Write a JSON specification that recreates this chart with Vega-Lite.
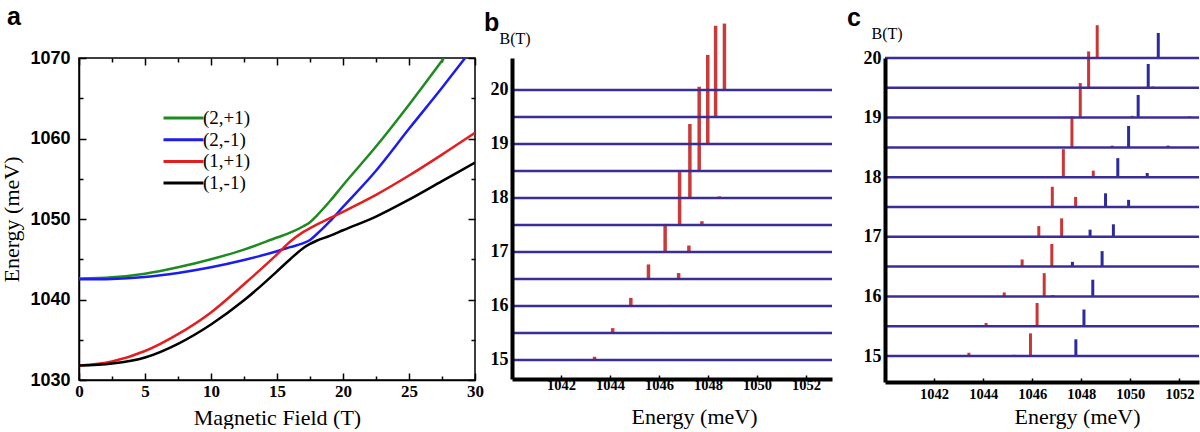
{
  "$schema": "https://vega.github.io/schema/vega-lite/v6.json",
  "autosize": {"type": "pad"},
  "padding": {"left": 0, "top": 4, "right": 0, "bottom": 0},
  "background": "white",
  "bounds": "flush",
  "spacing": 37,
  "resolve": {"scale": {"color": "independent"}, "legend": {"color": "independent"}},
  "config": {"view": {"stroke": null}, "font": "Liberation Serif"},
  "hconcat": [
    {
      "width": 396,
      "height": 322,
      "title": {"text": "a", "font": "Liberation Sans", "fontSize": 25, "fontWeight": "bold", "anchor": "start", "frame": "group", "dx": -72, "offset": -1, "baseline": "alphabetic", "color": "black"},
      "view": {"stroke": "black", "strokeWidth": 1.5},
      "data": {"values": [
        {"state": "(2,+1)", "B": 0, "E": 1042.6}, {"state": "(2,+1)", "B": 2.5, "E": 1042.75}, {"state": "(2,+1)", "B": 5, "E": 1043.2}, {"state": "(2,+1)", "B": 7.5, "E": 1044.0}, {"state": "(2,+1)", "B": 10, "E": 1045.0}, {"state": "(2,+1)", "B": 12.5, "E": 1046.2}, {"state": "(2,+1)", "B": 15, "E": 1047.7}, {"state": "(2,+1)", "B": 16, "E": 1048.3}, {"state": "(2,+1)", "B": 17, "E": 1049.1}, {"state": "(2,+1)", "B": 17.5, "E": 1049.6}, {"state": "(2,+1)", "B": 18, "E": 1050.4}, {"state": "(2,+1)", "B": 19, "E": 1052.2}, {"state": "(2,+1)", "B": 20, "E": 1054.2}, {"state": "(2,+1)", "B": 22.5, "E": 1059.0}, {"state": "(2,+1)", "B": 25, "E": 1064.2}, {"state": "(2,+1)", "B": 27.65, "E": 1070.0},
        {"state": "(2,-1)", "B": 0, "E": 1042.5}, {"state": "(2,-1)", "B": 2.5, "E": 1042.55}, {"state": "(2,-1)", "B": 5, "E": 1042.8}, {"state": "(2,-1)", "B": 7.5, "E": 1043.3}, {"state": "(2,-1)", "B": 10, "E": 1044.0}, {"state": "(2,-1)", "B": 12.5, "E": 1044.9}, {"state": "(2,-1)", "B": 15, "E": 1046.0}, {"state": "(2,-1)", "B": 16, "E": 1046.5}, {"state": "(2,-1)", "B": 17, "E": 1047.0}, {"state": "(2,-1)", "B": 17.5, "E": 1047.4}, {"state": "(2,-1)", "B": 18, "E": 1048.1}, {"state": "(2,-1)", "B": 19, "E": 1049.7}, {"state": "(2,-1)", "B": 20, "E": 1051.5}, {"state": "(2,-1)", "B": 22.5, "E": 1056.0}, {"state": "(2,-1)", "B": 25, "E": 1061.2}, {"state": "(2,-1)", "B": 27.5, "E": 1066.3}, {"state": "(2,-1)", "B": 29.25, "E": 1070.0},
        {"state": "(1,+1)", "B": 0, "E": 1031.8}, {"state": "(1,+1)", "B": 2.5, "E": 1032.3}, {"state": "(1,+1)", "B": 5, "E": 1033.6}, {"state": "(1,+1)", "B": 7.5, "E": 1035.7}, {"state": "(1,+1)", "B": 10, "E": 1038.4}, {"state": "(1,+1)", "B": 12.5, "E": 1041.9}, {"state": "(1,+1)", "B": 15, "E": 1045.6}, {"state": "(1,+1)", "B": 16, "E": 1047.2}, {"state": "(1,+1)", "B": 17, "E": 1048.4}, {"state": "(1,+1)", "B": 18, "E": 1049.3}, {"state": "(1,+1)", "B": 19, "E": 1050.1}, {"state": "(1,+1)", "B": 20, "E": 1050.9}, {"state": "(1,+1)", "B": 22.5, "E": 1053.0}, {"state": "(1,+1)", "B": 25, "E": 1055.4}, {"state": "(1,+1)", "B": 27.5, "E": 1058.0}, {"state": "(1,+1)", "B": 30, "E": 1060.7},
        {"state": "(1,-1)", "B": 0, "E": 1031.8}, {"state": "(1,-1)", "B": 2.5, "E": 1032.05}, {"state": "(1,-1)", "B": 5, "E": 1032.8}, {"state": "(1,-1)", "B": 7.5, "E": 1034.5}, {"state": "(1,-1)", "B": 10, "E": 1036.9}, {"state": "(1,-1)", "B": 12.5, "E": 1039.9}, {"state": "(1,-1)", "B": 14, "E": 1042.0}, {"state": "(1,-1)", "B": 15, "E": 1043.5}, {"state": "(1,-1)", "B": 16, "E": 1045.0}, {"state": "(1,-1)", "B": 17, "E": 1046.4}, {"state": "(1,-1)", "B": 17.5, "E": 1046.9}, {"state": "(1,-1)", "B": 18, "E": 1047.3}, {"state": "(1,-1)", "B": 19, "E": 1047.9}, {"state": "(1,-1)", "B": 20, "E": 1048.6}, {"state": "(1,-1)", "B": 22.5, "E": 1050.3}, {"state": "(1,-1)", "B": 25, "E": 1052.4}, {"state": "(1,-1)", "B": 27.5, "E": 1054.7}, {"state": "(1,-1)", "B": 30, "E": 1057.0}
      ]},
      "layer": [
        {
          "mark": {"type": "line", "strokeWidth": 2.5, "interpolate": "monotone", "clip": true},
          "encoding": {
            "x": {"field": "B", "type": "quantitative", "scale": {"domain": [0, 30], "nice": false},
              "axis": {"values": [0, 2.5, 5, 7.5, 10, 12.5, 15, 17.5, 20, 22.5, 25, 27.5, 30], "labelExpr": "datum.value % 5 === 0 ? datum.label : ''",
                "tickSize": {"condition": {"test": "datum.value % 5 === 0", "value": -7}, "value": -4}, "tickWidth": 1.5, "tickColor": "black",
                "domainColor": "black", "domainWidth": 1.5, "grid": false, "labelFlush": false,
                "labelFont": "Liberation Serif", "labelFontWeight": "bold", "labelFontSize": 17, "labelColor": "black", "labelPadding": 10,
                "title": "Magnetic Field (T)", "titleFont": "Liberation Serif", "titleFontSize": 22, "titleFontWeight": "normal", "titleColor": "black", "titlePadding": 8}},
            "y": {"field": "E", "type": "quantitative", "scale": {"domain": [1030, 1070], "nice": false, "zero": false},
              "axis": {"values": [1030, 1035, 1040, 1045, 1050, 1055, 1060, 1065, 1070], "format": "d", "labelExpr": "datum.value % 10 === 0 ? datum.label : ''",
                "tickSize": {"condition": {"test": "datum.value % 10 === 0", "value": -7}, "value": -4}, "tickWidth": 1.5, "tickColor": "black",
                "domainColor": "black", "domainWidth": 1.5, "grid": false,
                "labelFont": "Liberation Sans", "labelFontWeight": "bold", "labelFontSize": 18, "labelColor": "black", "labelPadding": 16,
                "title": "Energy (meV)", "titleFont": "Liberation Serif", "titleFontSize": 22, "titleFontWeight": "normal", "titleColor": "black", "titlePadding": 6}},
            "color": {"field": "state", "type": "nominal",
              "scale": {"domain": ["(2,+1)", "(2,-1)", "(1,+1)", "(1,-1)"], "range": ["#1f8a1f", "#1c1cf0", "#e41e1e", "#000000"]},
              "legend": {"orient": "none", "legendX": 83, "legendY": 50, "title": null, "symbolType": "stroke", "symbolSize": 1600, "symbolStrokeWidth": 3,
                "labelFont": "Liberation Serif", "labelFontSize": 19, "labelColor": "black", "labelOffset": -2, "clipHeight": 20, "rowPadding": 1.7}}
          }
        },
        {
          "mark": {"type": "point", "opacity": 0},
          "encoding": {
            "x": {"field": "B", "type": "quantitative",
              "axis": {"orient": "top", "values": [0, 2.5, 5, 7.5, 10, 12.5, 15, 17.5, 20, 22.5, 25, 27.5, 30], "labels": false, "title": null, "domain": false, "grid": false,
                "tickSize": {"condition": {"test": "datum.value % 5 === 0", "value": -7}, "value": -4}, "tickWidth": 1.5, "tickColor": "black"}},
            "y": {"field": "E", "type": "quantitative",
              "axis": {"orient": "right", "values": [1030, 1035, 1040, 1045, 1050, 1055, 1060, 1065, 1070], "labels": false, "title": null, "domain": false, "grid": false,
                "tickSize": {"condition": {"test": "datum.value % 10 === 0", "value": -7}, "value": -4}, "tickWidth": 1.5, "tickColor": "black"}}
          }
        }
      ],
      "resolve": {"axis": {"x": "independent", "y": "independent"}}
    },
    {
      "bounds": "flush",
      "spacing": 53,
      "resolve": {"scale": {"color": "independent"}, "legend": {"color": "independent"}},
      "hconcat": [
        {
          "width": 320,
          "height": 321,
          "title": {"text": "b", "font": "Liberation Sans", "fontSize": 25, "fontWeight": "bold", "anchor": "start", "frame": "group", "dx": -28, "offset": -34, "baseline": "alphabetic", "color": "black"},
          "layer": [
            {
              "data": {"values": [
                {"B": 15, "E": 1043.37, "h": 0.06},
                {"B": 15.5, "E": 1044.11, "h": 0.09}, {"B": 15.5, "E": 1046.17, "h": 0.02},
                {"B": 16, "E": 1044.85, "h": 0.15}, {"B": 16, "E": 1046.47, "h": 0.02},
                {"B": 16.5, "E": 1045.57, "h": 0.27}, {"B": 16.5, "E": 1046.8, "h": 0.11},
                {"B": 17, "E": 1046.25, "h": 0.52}, {"B": 17, "E": 1047.22, "h": 0.12},
                {"B": 17.5, "E": 1046.84, "h": 0.98}, {"B": 17.5, "E": 1047.75, "h": 0.07},
                {"B": 18, "E": 1047.26, "h": 1.37}, {"B": 18, "E": 1048.46, "h": 0.03},
                {"B": 18.5, "E": 1047.64, "h": 1.56},
                {"B": 19, "E": 1047.99, "h": 1.65},
                {"B": 19.5, "E": 1048.31, "h": 1.69},
                {"B": 20, "E": 1048.67, "h": 1.23}
              ]},
              "transform": [{"calculate": "datum.B + datum.h", "as": "top"}],
              "mark": {"type": "rule", "strokeWidth": 3.5, "color": "#c93b3b"},
              "encoding": {
                "x": {"field": "E", "type": "quantitative", "scale": {"domain": [1040, 1053.06], "nice": false, "zero": false},
                  "axis": {"values": [1042, 1044, 1046, 1048, 1050, 1052], "format": "d", "zindex": 1, "grid": false, "labelFlush": false,
                    "domainColor": "black", "domainWidth": 4, "tickColor": "black", "tickSize": -4, "tickWidth": 1.5,
                    "labelFont": "Liberation Serif", "labelFontWeight": "bold", "labelFontSize": 14.5, "labelColor": "black", "labelPadding": 3,
                    "title": "Energy (meV)", "titleFont": "Liberation Serif", "titleFontSize": 22, "titleFontWeight": "normal", "titleColor": "black", "titlePadding": 15, "titleX": 182}},
                "y": {"field": "B", "type": "quantitative", "scale": {"domain": [14.648, 20.5926], "nice": false, "zero": false},
                  "axis": {"values": [15, 16, 17, 18, 19, 20], "format": "d", "zindex": 1, "grid": false, "ticks": false,
                    "domainColor": "black", "domainWidth": 4,
                    "labelFont": "Liberation Serif", "labelFontWeight": "bold", "labelFontSize": 18, "labelColor": "black", "labelPadding": 4,
                    "title": "B(T)", "titleFont": "Liberation Serif", "titleFontSize": 16, "titleFontWeight": "normal", "titleColor": "black",
                    "titleAngle": 0, "titleAlign": "left", "titleBaseline": "middle", "titleX": -13, "titleY": -20}},
                "y2": {"field": "top"}
              }
            },
            {
              "data": {"values": [{"B": 15}, {"B": 15.5}, {"B": 16}, {"B": 16.5}, {"B": 17}, {"B": 17.5}, {"B": 18}, {"B": 18.5}, {"B": 19}, {"B": 19.5}, {"B": 20}]},
              "mark": {"type": "rule", "strokeWidth": 2.5, "color": "#3b2d98"},
              "encoding": {"y": {"field": "B", "type": "quantitative"}}
            }
          ]
        },
        {
          "width": 314,
          "height": 324,
          "title": {"text": "c", "font": "Liberation Sans", "fontSize": 25, "fontWeight": "bold", "anchor": "start", "frame": "group", "dx": -38, "offset": -27, "baseline": "alphabetic", "color": "black"},
          "layer": [
            {
              "data": {"values": [
                {"B": 15, "E": 1043.42, "h": 0.055, "level": "n=1"}, {"B": 15, "E": 1045.26, "h": 0.02, "level": "n=2"}, {"B": 15, "E": 1045.93, "h": 0.38, "level": "n=1"}, {"B": 15, "E": 1047.78, "h": 0.28, "level": "n=2"},
                {"B": 15.5, "E": 1044.12, "h": 0.055, "level": "n=1"}, {"B": 15.5, "E": 1046.05, "h": 0.02, "level": "n=2"}, {"B": 15.5, "E": 1046.2, "h": 0.39, "level": "n=1"}, {"B": 15.5, "E": 1048.11, "h": 0.28, "level": "n=2"},
                {"B": 16, "E": 1044.86, "h": 0.067, "level": "n=1"}, {"B": 16, "E": 1046.49, "h": 0.39, "level": "n=1"}, {"B": 16, "E": 1046.84, "h": 0.02, "level": "n=2"}, {"B": 16, "E": 1048.47, "h": 0.28, "level": "n=2"},
                {"B": 16.5, "E": 1045.59, "h": 0.12, "level": "n=1"}, {"B": 16.5, "E": 1046.8, "h": 0.38, "level": "n=1"}, {"B": 16.5, "E": 1047.64, "h": 0.08, "level": "n=2"}, {"B": 16.5, "E": 1048.85, "h": 0.26, "level": "n=2"},
                {"B": 17, "E": 1046.27, "h": 0.18, "level": "n=1"}, {"B": 17, "E": 1047.2, "h": 0.31, "level": "n=1"}, {"B": 17, "E": 1048.36, "h": 0.12, "level": "n=2"}, {"B": 17, "E": 1049.31, "h": 0.21, "level": "n=2"},
                {"B": 17.5, "E": 1046.82, "h": 0.34, "level": "n=1"}, {"B": 17.5, "E": 1047.77, "h": 0.17, "level": "n=1"}, {"B": 17.5, "E": 1048.99, "h": 0.23, "level": "n=2"}, {"B": 17.5, "E": 1049.93, "h": 0.12, "level": "n=2"},
                {"B": 18, "E": 1047.27, "h": 0.47, "level": "n=1"}, {"B": 18, "E": 1048.49, "h": 0.11, "level": "n=1"}, {"B": 18, "E": 1049.49, "h": 0.32, "level": "n=2"}, {"B": 18, "E": 1050.69, "h": 0.07, "level": "n=2"},
                {"B": 18.5, "E": 1047.62, "h": 0.52, "level": "n=1"}, {"B": 18.5, "E": 1049.26, "h": 0.03, "level": "n=1"}, {"B": 18.5, "E": 1049.93, "h": 0.36, "level": "n=2"}, {"B": 18.5, "E": 1051.54, "h": 0.03, "level": "n=2"},
                {"B": 19, "E": 1047.96, "h": 0.58, "level": "n=1"}, {"B": 19, "E": 1050.08, "h": 0.03, "level": "n=1"}, {"B": 19, "E": 1050.32, "h": 0.38, "level": "n=2"}, {"B": 19, "E": 1052.42, "h": 0.02, "level": "n=2"},
                {"B": 19.5, "E": 1048.3, "h": 0.61, "level": "n=1"}, {"B": 19.5, "E": 1050.73, "h": 0.4, "level": "n=2"}, {"B": 19.5, "E": 1050.92, "h": 0.02, "level": "n=2"},
                {"B": 20, "E": 1048.65, "h": 0.55, "level": "n=1"}, {"B": 20, "E": 1051.14, "h": 0.42, "level": "n=2"}, {"B": 20, "E": 1051.8, "h": 0.01, "level": "n=2"}
              ]},
              "transform": [{"calculate": "datum.B + datum.h", "as": "top"}],
              "mark": {"type": "rule", "strokeWidth": 3},
              "encoding": {
                "x": {"field": "E", "type": "quantitative", "scale": {"domain": [1040, 1052.8], "nice": false, "zero": false},
                  "axis": {"values": [1042, 1044, 1046, 1048, 1050, 1052], "format": "d", "zindex": 1, "grid": false, "labelFlush": false,
                    "domainColor": "black", "domainWidth": 4, "tickColor": "black", "tickSize": -4, "tickWidth": 1.5,
                    "labelFont": "Liberation Serif", "labelFontWeight": "bold", "labelFontSize": 14.5, "labelColor": "black", "labelPadding": 9,
                    "title": "Energy (meV)", "titleFont": "Liberation Serif", "titleFontSize": 22, "titleFontWeight": "normal", "titleColor": "black", "titlePadding": 6, "titleX": 192}},
                "y": {"field": "B", "type": "quantitative", "scale": {"domain": [14.564, 20], "nice": false, "zero": false},
                  "axis": {"values": [15, 16, 17, 18, 19, 20], "format": "d", "zindex": 1, "grid": false, "ticks": false,
                    "domainColor": "black", "domainWidth": 4,
                    "labelFont": "Liberation Serif", "labelFontWeight": "bold", "labelFontSize": 18, "labelColor": "black", "labelPadding": 4,
                    "title": "B(T)", "titleFont": "Liberation Serif", "titleFontSize": 16, "titleFontWeight": "normal", "titleColor": "black",
                    "titleAngle": 0, "titleAlign": "left", "titleBaseline": "middle", "titleX": -14, "titleY": -25}},
                "y2": {"field": "top"},
                "color": {"field": "level", "type": "nominal", "scale": {"domain": ["n=1", "n=2"], "range": ["#cc3535", "#2c2a9c"]}, "legend": null}
              }
            },
            {
              "data": {"values": [{"B": 15}, {"B": 15.5}, {"B": 16}, {"B": 16.5}, {"B": 17}, {"B": 17.5}, {"B": 18}, {"B": 18.5}, {"B": 19}, {"B": 19.5}, {"B": 20}]},
              "mark": {"type": "rule", "strokeWidth": 2.5, "color": "#3b2d98"},
              "encoding": {"y": {"field": "B", "type": "quantitative"}}
            }
          ]
        }
      ]
    }
  ]
}
